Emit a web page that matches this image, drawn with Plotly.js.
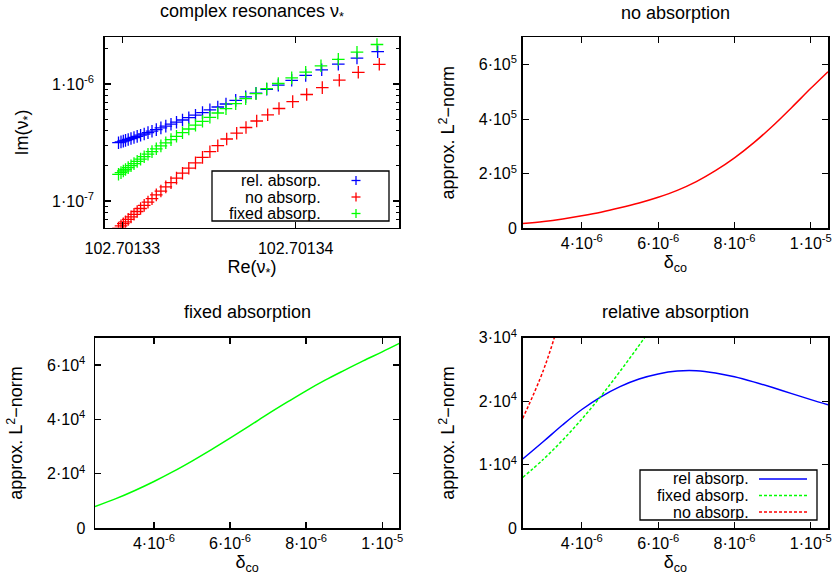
<!DOCTYPE html>
<html><head><meta charset="utf-8">
<script src="https://cdn.plot.ly/plotly-3.0.1.min.js"></script>
<style>html,body{margin:0;padding:0;background:#fff}#chart{width:837px;height:586px}</style>
</head><body><div id="chart"></div>
<script>
// ---- complex resonances (top-left) ----
const reRel = [102.701329781,102.701329925,102.701330058,102.701330185,102.701330340,102.701330502,102.701330675,102.701330859,102.701331055,102.701331263,102.701331482,102.701331713,102.701331961,102.701332226,102.701332509,102.701332809,102.701333126,102.701333472,102.701333835,102.701334221,102.701334625,102.701335052,102.701335507,102.701335980,102.701336540,102.701337116,102.701337710,102.701338328,102.701338997,102.701339769,102.701340577,102.701341500,102.701342457,102.701343535,102.701344729];
const imRel = [3.150e-7,3.199e-7,3.251e-7,3.296e-7,3.355e-7,3.422e-7,3.490e-7,3.566e-7,3.651e-7,3.738e-7,3.843e-7,3.951e-7,4.077e-7,4.215e-7,4.367e-7,4.533e-7,4.715e-7,4.924e-7,5.152e-7,5.412e-7,5.695e-7,6.005e-7,6.358e-7,6.745e-7,7.244e-7,7.772e-7,8.343e-7,9.010e-7,9.786e-7,1.0755e-6,1.1844e-6,1.3224e-6,1.4765e-6,1.6653e-6,1.8883e-6];
const reNo = [102.701329781,102.701329925,102.701330058,102.701330185,102.701330340,102.701330502,102.701330675,102.701330859,102.701331055,102.701331263,102.701331482,102.701331713,102.701331961,102.701332226,102.701332509,102.701332809,102.701333126,102.701333472,102.701333835,102.701334221,102.701334625,102.701335052,102.701335507,102.701336021,102.701336597,102.701337134,102.701337751,102.701338385,102.701339037,102.701339827,102.701340634,102.701341534,102.701342514,102.701343610,102.701344821];
const imNo = [5.876e-8,6.138e-8,6.398e-8,6.641e-8,6.962e-8,7.314e-8,7.697e-8,8.134e-8,8.629e-8,9.171e-8,9.786e-8,1.0483e-7,1.1274e-7,1.2172e-7,1.3198e-7,1.4368e-7,1.5694e-7,1.7281e-7,1.9069e-7,2.1162e-7,2.3584e-7,2.6386e-7,2.9693e-7,3.3884e-7,3.7978e-7,4.2485e-7,4.8295e-7,5.4550e-7,6.1744e-7,7.0730e-7,8.1339e-7,9.3158e-7,1.07773e-6,1.25893e-6,1.47376e-6];
const reFix = [102.701329781,102.701329925,102.701330058,102.701330185,102.701330340,102.701330502,102.701330675,102.701330859,102.701331055,102.701331263,102.701331482,102.701331713,102.701331961,102.701332226,102.701332509,102.701332809,102.701333126,102.701333472,102.701333835,102.701334221,102.701334625,102.701335052,102.701335507,102.701335980,102.701336540,102.701337116,102.701337710,102.701338328,102.701338997,102.701339769,102.701340577,102.701341459,102.701342457,102.701343535,102.701344688];
const imFix = [1.691e-7,1.749e-7,1.805e-7,1.859e-7,1.930e-7,2.003e-7,2.088e-7,2.180e-7,2.281e-7,2.391e-7,2.512e-7,2.644e-7,2.794e-7,2.958e-7,3.144e-7,3.348e-7,3.573e-7,3.834e-7,4.125e-7,4.446e-7,4.798e-7,5.192e-7,5.650e-7,6.162e-7,6.798e-7,7.502e-7,8.278e-7,9.117e-7,1.0099e-6,1.1275e-6,1.2616e-6,1.4306e-6,1.6262e-6,1.8697e-6,2.1758e-6];

// ---- approx. L2-norm vs delta_co ----
const deltaCo = [2.45e-6,3.0e-6,3.5e-6,4.0e-6,4.5e-6,5.0e-6,5.5e-6,6.0e-6,6.5e-6,7.0e-6,7.5e-6,8.0e-6,8.5e-6,9.0e-6,9.5e-6,1.0e-5,1.045e-5];
const normNo = [17300,25000,34500,46000,59000,75000,93000,114000,139000,171000,211000,258000,313000,375000,443000,513000,574000];
const normFixed = [8000,10900,13900,17200,20800,24700,28800,33100,37500,42000,46300,50500,54400,58000,61500,64800,67900];
const normRel = [10900,13700,16300,18700,20700,22300,23500,24300,24750,24800,24450,23850,23050,22150,21200,20250,19450];

// ---- ticks ----
const reTickVals = [102.70133, 102.70134];
const reTickText = ['102.70133', '102.70134'];
const imTickVals = [1e-7, 1e-6];
const imTickText = ['1·10<sup>-7</sup>', '1·10<sup>-6</sup>'];
const imMinorVals = [6e-8,7e-8,8e-8,9e-8,2e-7,3e-7,4e-7,5e-7,6e-7,7e-7,8e-7,9e-7,2e-6];
const deltaTickVals = [4e-6, 6e-6, 8e-6, 1e-5];
const deltaTickText = ['4·10<sup>-6</sup>', '6·10<sup>-6</sup>', '8·10<sup>-6</sup>', '1·10<sup>-5</sup>'];
const noTickVals = [0, 2e5, 4e5, 6e5];
const noTickText = ['0', '2·10<sup>5</sup>', '4·10<sup>5</sup>', '6·10<sup>5</sup>'];
const fixTickVals = [0, 2e4, 4e4, 6e4];
const fixTickText = ['0', '2·10<sup>4</sup>', '4·10<sup>4</sup>', '6·10<sup>4</sup>'];
const relTickVals = [0, 1e4, 2e4, 3e4];
const relTickText = ['0', '1·10<sup>4</sup>', '2·10<sup>4</sup>', '3·10<sup>4</sup>'];

const W = 837, H = 586;
const PX = v => v / W, PY = v => 1 - v / H;
const FONT = '"Liberation Sans", Arial, Helvetica, sans-serif';
const BLUE = '#0000ff', RED = '#ff0000', GREEN = '#00ff00';

function ax(extra) {
  return Object.assign({
    showline: true, linecolor: '#000', linewidth: 1.5, mirror: 'ticks',
    ticks: 'inside', ticklen: 6, tickwidth: 1.3, tickcolor: '#000',
    showgrid: false, zeroline: false, tickmode: 'array', fixedrange: true,
    tickfont: {family: FONT, size: 16, color: '#000'}
  }, extra);
}
const ttl = (t, s) => ({text: t, font: {family: FONT, size: 18, color: '#000'}, standoff: s});

const cross = c => ({symbol: 'cross-thin', size: 9, line: {color: c, width: 1.3}});
const traces = [
  {type: 'scatter', mode: 'markers', name: 'rel. absorp.', x: reRel, y: imRel, xaxis: 'x', yaxis: 'y', marker: cross(BLUE), showlegend: false},
  {type: 'scatter', mode: 'markers', name: 'no absorp.', x: reNo, y: imNo, xaxis: 'x', yaxis: 'y', marker: cross(RED), showlegend: false},
  {type: 'scatter', mode: 'markers', name: 'fixed absorp.', x: reFix, y: imFix, xaxis: 'x', yaxis: 'y', marker: cross(GREEN), showlegend: false},
  {type: 'scatter', mode: 'lines', name: 'no absorption', x: deltaCo, y: normNo, xaxis: 'x2', yaxis: 'y2', line: {color: RED, width: 1.5, shape: 'spline'}, showlegend: false},
  {type: 'scatter', mode: 'lines', name: 'fixed absorption', x: deltaCo, y: normFixed, xaxis: 'x3', yaxis: 'y3', line: {color: GREEN, width: 1.5, shape: 'spline'}, showlegend: false},
  {type: 'scatter', mode: 'lines', name: 'rel absorp.', x: deltaCo, y: normRel, xaxis: 'x4', yaxis: 'y4', line: {color: BLUE, width: 1.5, shape: 'spline'}, showlegend: false},
  {type: 'scatter', mode: 'lines', name: 'fixed absorp.', x: deltaCo, y: normFixed, xaxis: 'x4', yaxis: 'y4', line: {color: GREEN, width: 1.5, dash: '3px,2px', shape: 'spline'}, showlegend: false},
  {type: 'scatter', mode: 'lines', name: 'no absorp.', x: deltaCo, y: normNo, xaxis: 'x4', yaxis: 'y4', line: {color: RED, width: 1.5, dash: '3px,2px', shape: 'spline'}, showlegend: false}
];

const deltaRange = [2.45e-6, 1.045e-5];
const layout = {
  width: W, height: H, margin: {l: 0, r: 0, t: 0, b: 0},
  paper_bgcolor: '#fff', plot_bgcolor: '#fff', showlegend: false,
  font: {family: FONT, color: '#000'},
  xaxis: ax({domain: [PX(104.7), PX(399.3)], anchor: 'y', range: [102.701328985, 102.701345975], tickvals: reTickVals, ticktext: reTickText, ticklabelstandoff: 6, title: ttl('Re(ν<sub>*</sub>)', 2)}),
  yaxis: ax({domain: [PY(227.7), PY(37.3)], anchor: 'x', type: 'log', range: [-7.228, -5.601], tickvals: imTickVals, ticktext: imTickText, ticklabelstandoff: 6, title: ttl('Im(ν<sub>*</sub>)', 18),
    minor: {tickmode: 'array', tickvals: imMinorVals, ticks: 'inside', ticklen: 3.5, tickwidth: 1, tickcolor: '#000', showgrid: false}}),
  xaxis2: ax({domain: [PX(522.7), PX(828)], anchor: 'y2', range: deltaRange, tickvals: deltaTickVals, ticktext: deltaTickText, ticklabelstandoff: 0, title: ttl('δ<sub>co</sub>', 3)}),
  yaxis2: ax({domain: [PY(228.3), PY(37.3)], anchor: 'x2', range: [0, 7e5], tickvals: noTickVals, ticktext: noTickText, ticklabelstandoff: 1, title: ttl('approx. L<sup>2</sup>−norm', 19)}),
  xaxis3: ax({domain: [PX(95), PX(399.3)], anchor: 'y3', range: deltaRange, tickvals: deltaTickVals, ticktext: deltaTickText, ticklabelstandoff: 0, title: ttl('δ<sub>co</sub>', 4)}),
  yaxis3: ax({domain: [PY(528.3), PY(337.7)], anchor: 'x3', range: [0, 7e4], tickvals: fixTickVals, ticktext: fixTickText, ticklabelstandoff: 5, title: ttl('approx. L<sup>2</sup>−norm', 19)}),
  xaxis4: ax({domain: [PX(522.7), PX(828)], anchor: 'y4', range: deltaRange, tickvals: deltaTickVals, ticktext: deltaTickText, ticklabelstandoff: 0, title: ttl('δ<sub>co</sub>', 4)}),
  yaxis4: ax({domain: [PY(528.3), PY(337.7)], anchor: 'x4', range: [0, 3e4], tickvals: relTickVals, ticktext: relTickText, ticklabelstandoff: 1, title: ttl('approx. L<sup>2</sup>−norm', 19)}),
  annotations: [],
  shapes: []
};

function addTitle(text, x, y) {
  layout.annotations.push({text: text, xref: 'paper', yref: 'paper', x: PX(x), y: PY(y), xanchor: 'center', yanchor: 'middle', showarrow: false, font: {family: FONT, size: 18, color: '#000'}});
}
addTitle('complex resonances ν<sub>*</sub>', 252, 13);
addTitle('no absorption', 675.4, 13);
addTitle('fixed absorption', 247, 312);
addTitle('relative absorption', 675.4, 312);

function legendText(text, xRight, y) {
  layout.annotations.push({text: text, xref: 'paper', yref: 'paper', x: PX(xRight), y: PY(y), xanchor: 'right', yanchor: 'middle', height: 15, valign: 'middle', borderpad: 0, showarrow: false, font: {family: FONT, size: 16, color: '#000'}});
}
function seg(x0, y0, x1, y1, color, width, dash) {
  layout.shapes.push({type: 'line', xref: 'paper', yref: 'paper', x0: PX(x0), y0: PY(y0), x1: PX(x1), y1: PY(y1), line: {color: color, width: width, dash: dash || 'solid'}});
}
function box(x0, y0, x1, y1) {
  layout.shapes.push({type: 'rect', xref: 'paper', yref: 'paper', x0: PX(x0), y0: PY(y1), x1: PX(x1), y1: PY(y0), line: {color: '#000', width: 1.3}, fillcolor: 'rgba(0,0,0,0)'});
}
function crossSample(x, y, color) {
  seg(x - 4.5, y, x + 4.5, y, color, 1.3);
  seg(x, y - 4.5, x, y + 4.5, color, 1.3);
}
// legend, top-left
box(212, 171, 389, 221);
legendText('rel. absorp.', 322, 180.5); crossSample(356, 180.5, BLUE);
legendText('no absorp.', 322, 197); crossSample(356, 197, RED);
legendText('fixed absorp.', 322, 213.5); crossSample(356, 213.5, GREEN);
// legend, bottom-right
box(640, 470, 817, 520);
legendText('rel absorp.', 750, 479); seg(759, 479, 807, 479, BLUE, 1.5);
legendText('fixed absorp.', 750, 495.5); seg(759, 495.5, 807, 495.5, GREEN, 1.5, '3px,2px');
legendText('no absorp.', 750, 512); seg(759, 512, 807, 512, RED, 1.5, '3px,2px');

Plotly.newPlot('chart', traces, layout, {displayModeBar: false, staticPlot: true});
</script>
</body></html>
